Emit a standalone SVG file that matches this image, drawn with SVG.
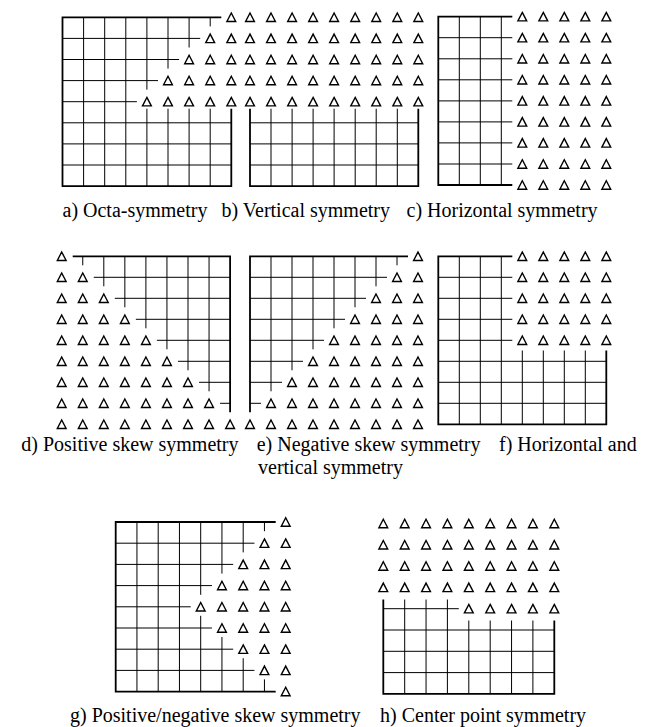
<svg xmlns="http://www.w3.org/2000/svg" width="660" height="727" viewBox="0 0 660 727">
<style>
.ln{stroke:#000;stroke-width:1;fill:none}
.bd{stroke:#000;stroke-width:1.8;fill:none;stroke-linejoin:miter}
.tri{fill:none;stroke:#000;stroke-width:1.4;stroke-linejoin:miter}
.cap{font-family:"Liberation Serif","Times New Roman",serif;font-size:20px;fill:#000}
</style>
<defs>
<path id="t" class="tri" d="M0,-4.3L4.4,4.2L-4.4,4.2Z"/>
</defs>
<rect width="660" height="727" fill="#fff"/>

<g id="panel-a">
<path class="ln" d="M62.5,38.4H200.2M62.5,59.5H179.1M62.5,80.6H158M62.5,101.7H136.9M62.5,122.8H231.3M62.5,143.9H231.3M62.5,165H231.3M83.6,17.3V186.1M104.7,17.3V186.1M125.8,17.3V186.1M146.9,17.3V89.7M146.9,108.7V186.1M168,17.3V68.6M168,108.7V186.1M189.1,17.3V47.5M189.1,108.7V186.1M210.2,17.3V26.4M210.2,108.7V186.1"/>
<path class="bd" d="M221.3,17.3H62.5V186.1H231.3V108.7"/>
<use href="#t" x="231.3" y="17.3"/>
<use href="#t" x="210.2" y="38.4"/><use href="#t" x="231.3" y="38.4"/>
<use href="#t" x="189.1" y="59.5"/><use href="#t" x="210.2" y="59.5"/><use href="#t" x="231.3" y="59.5"/>
<use href="#t" x="168" y="80.6"/><use href="#t" x="189.1" y="80.6"/><use href="#t" x="210.2" y="80.6"/><use href="#t" x="231.3" y="80.6"/>
<use href="#t" x="146.9" y="101.7"/><use href="#t" x="168" y="101.7"/><use href="#t" x="189.1" y="101.7"/><use href="#t" x="210.2" y="101.7"/><use href="#t" x="231.3" y="101.7"/>
</g>

<g id="panel-b">
<path class="ln" d="M250,122.8H418.3M250,143.9H418.3M250,165H418.3M271,108.7V186.1M292.1,108.7V186.1M313.1,108.7V186.1M334.1,108.7V186.1M355.2,108.7V186.1M376.2,108.7V186.1M397.3,108.7V186.1"/>
<path class="bd" d="M250,108.7V186.1H418.3V108.7"/>
<g id="b-row">
<use href="#t" x="250" y="17.3"/><use href="#t" x="271" y="17.3"/><use href="#t" x="292.1" y="17.3"/><use href="#t" x="313.1" y="17.3"/><use href="#t" x="334.1" y="17.3"/><use href="#t" x="355.2" y="17.3"/><use href="#t" x="376.2" y="17.3"/><use href="#t" x="397.3" y="17.3"/><use href="#t" x="418.3" y="17.3"/>
</g>
<use href="#b-row" y="21.1"/><use href="#b-row" y="42.2"/><use href="#b-row" y="63.3"/><use href="#b-row" y="84.4"/>
</g>

<g id="panel-c">
<path class="ln" d="M438.3,37.7H512.3M438.3,58.8H512.3M438.3,79.8H512.3M438.3,100.9H512.3M438.3,121.9H512.3M438.3,142.9H512.3M438.3,164H512.3M459.3,16.7V185M480.3,16.7V185M501.3,16.7V185"/>
<path class="bd" d="M512.3,16.7H438.3V185H512.3"/>
<g id="c-row">
<use href="#t" x="522.3" y="16.7"/><use href="#t" x="543.3" y="16.7"/><use href="#t" x="564.3" y="16.7"/><use href="#t" x="585.3" y="16.7"/><use href="#t" x="606.3" y="16.7"/>
</g>
<use href="#c-row" y="21"/><use href="#c-row" y="42.1"/><use href="#c-row" y="63.1"/><use href="#c-row" y="84.2"/><use href="#c-row" y="105.2"/><use href="#c-row" y="126.2"/><use href="#c-row" y="147.3"/><use href="#c-row" y="168.3"/>
</g>

<g id="panel-d">
<path class="ln" d="M93.75,277.3H230.1M114.8,298.3H230.1M135.85,319.3H230.1M156.9,340.3H230.1M177.95,361.3H230.1M199,382.3H230.1M220.05,403.3H230.1M82.75,256.3V265.3M103.8,256.3V286.3M124.85,256.3V307.3M145.9,256.3V328.3M166.95,256.3V349.3M188,256.3V370.3M209.05,256.3V391.3"/>
<path class="bd" d="M72.7,256.3H230.1V412.3"/>
<use href="#t" x="61.7" y="256.3"/>
<use href="#t" x="61.7" y="277.3"/><use href="#t" x="82.75" y="277.3"/>
<use href="#t" x="61.7" y="298.3"/><use href="#t" x="82.75" y="298.3"/><use href="#t" x="103.8" y="298.3"/>
<use href="#t" x="61.7" y="319.3"/><use href="#t" x="82.75" y="319.3"/><use href="#t" x="103.8" y="319.3"/><use href="#t" x="124.85" y="319.3"/>
<use href="#t" x="61.7" y="340.3"/><use href="#t" x="82.75" y="340.3"/><use href="#t" x="103.8" y="340.3"/><use href="#t" x="124.85" y="340.3"/><use href="#t" x="145.9" y="340.3"/>
<use href="#t" x="61.7" y="361.3"/><use href="#t" x="82.75" y="361.3"/><use href="#t" x="103.8" y="361.3"/><use href="#t" x="124.85" y="361.3"/><use href="#t" x="145.9" y="361.3"/><use href="#t" x="166.95" y="361.3"/>
<use href="#t" x="61.7" y="382.3"/><use href="#t" x="82.75" y="382.3"/><use href="#t" x="103.8" y="382.3"/><use href="#t" x="124.85" y="382.3"/><use href="#t" x="145.9" y="382.3"/><use href="#t" x="166.95" y="382.3"/><use href="#t" x="188" y="382.3"/>
<use href="#t" x="61.7" y="403.3"/><use href="#t" x="82.75" y="403.3"/><use href="#t" x="103.8" y="403.3"/><use href="#t" x="124.85" y="403.3"/><use href="#t" x="145.9" y="403.3"/><use href="#t" x="166.95" y="403.3"/><use href="#t" x="188" y="403.3"/><use href="#t" x="209.05" y="403.3"/>
<use href="#t" x="61.7" y="424.3"/><use href="#t" x="82.75" y="424.3"/><use href="#t" x="103.8" y="424.3"/><use href="#t" x="124.85" y="424.3"/><use href="#t" x="145.9" y="424.3"/><use href="#t" x="166.95" y="424.3"/><use href="#t" x="188" y="424.3"/><use href="#t" x="209.05" y="424.3"/><use href="#t" x="230.1" y="424.3"/>
</g>

<g id="panel-e">
<path class="ln" d="M250,277.3H387M250,298.3H366M250,319.3H345M250,340.3H324M250,361.3H303M250,382.3H282M250,403.3H261M271,256.3V391.3M292,256.3V370.3M313,256.3V349.3M334,256.3V328.3M355,256.3V307.3M376,256.3V286.3M397,256.3V265.3"/>
<path class="bd" d="M408,256.3H250V412.3"/>
<use href="#t" x="418" y="256.3"/>
<use href="#t" x="397" y="277.3"/><use href="#t" x="418" y="277.3"/>
<use href="#t" x="376" y="298.3"/><use href="#t" x="397" y="298.3"/><use href="#t" x="418" y="298.3"/>
<use href="#t" x="355" y="319.3"/><use href="#t" x="376" y="319.3"/><use href="#t" x="397" y="319.3"/><use href="#t" x="418" y="319.3"/>
<use href="#t" x="334" y="340.3"/><use href="#t" x="355" y="340.3"/><use href="#t" x="376" y="340.3"/><use href="#t" x="397" y="340.3"/><use href="#t" x="418" y="340.3"/>
<use href="#t" x="313" y="361.3"/><use href="#t" x="334" y="361.3"/><use href="#t" x="355" y="361.3"/><use href="#t" x="376" y="361.3"/><use href="#t" x="397" y="361.3"/><use href="#t" x="418" y="361.3"/>
<use href="#t" x="292" y="382.3"/><use href="#t" x="313" y="382.3"/><use href="#t" x="334" y="382.3"/><use href="#t" x="355" y="382.3"/><use href="#t" x="376" y="382.3"/><use href="#t" x="397" y="382.3"/><use href="#t" x="418" y="382.3"/>
<use href="#t" x="271" y="403.3"/><use href="#t" x="292" y="403.3"/><use href="#t" x="313" y="403.3"/><use href="#t" x="334" y="403.3"/><use href="#t" x="355" y="403.3"/><use href="#t" x="376" y="403.3"/><use href="#t" x="397" y="403.3"/><use href="#t" x="418" y="403.3"/>
<use href="#t" x="250" y="424.3"/><use href="#t" x="271" y="424.3"/><use href="#t" x="292" y="424.3"/><use href="#t" x="313" y="424.3"/><use href="#t" x="334" y="424.3"/><use href="#t" x="355" y="424.3"/><use href="#t" x="376" y="424.3"/><use href="#t" x="397" y="424.3"/><use href="#t" x="418" y="424.3"/>
</g>

<g id="panel-f">
<path class="ln" d="M438.3,277.3H512.3M438.3,298.3H512.3M438.3,319.3H512.3M438.3,340.3H512.3M438.3,361.3H606.3M438.3,382.3H606.3M438.3,403.3H606.3M459.3,256.3V424.3M480.3,256.3V424.3M501.3,256.3V424.3M522.3,350.5V424.3M543.3,350.5V424.3M564.3,350.5V424.3M585.3,350.5V424.3"/>
<path class="bd" d="M512.3,256.3H438.3V424.3H606.3V350.5"/>
<g id="f-row">
<use href="#t" x="522.3" y="256.3"/><use href="#t" x="543.3" y="256.3"/><use href="#t" x="564.3" y="256.3"/><use href="#t" x="585.3" y="256.3"/><use href="#t" x="606.3" y="256.3"/>
</g>
<use href="#f-row" y="21"/><use href="#f-row" y="42"/><use href="#f-row" y="63"/><use href="#f-row" y="84"/>
</g>

<g id="panel-g">
<path class="ln" d="M115.7,543.2H254.45M115.7,564.4H233.2M115.7,585.6H211.95M115.7,606.8H190.7M115.7,628H211.95M115.7,649.2H233.2M115.7,670.4H254.45M136.95,522V691.6M158.2,522V691.6M179.45,522V691.6M200.7,522V594.8M200.7,615.8V691.6M221.95,522V573.6M221.95,637V691.6M243.2,522V552.4M243.2,658.2V691.6M264.45,522V531.2M264.45,679.4V691.6"/>
<path class="bd" d="M275.7,522H115.7V691.6H275.7"/>
<use href="#t" x="285.7" y="522"/>
<use href="#t" x="264.45" y="543.2"/><use href="#t" x="285.7" y="543.2"/>
<use href="#t" x="243.2" y="564.4"/><use href="#t" x="264.45" y="564.4"/><use href="#t" x="285.7" y="564.4"/>
<use href="#t" x="221.95" y="585.6"/><use href="#t" x="243.2" y="585.6"/><use href="#t" x="264.45" y="585.6"/><use href="#t" x="285.7" y="585.6"/>
<use href="#t" x="200.7" y="606.8"/><use href="#t" x="221.95" y="606.8"/><use href="#t" x="243.2" y="606.8"/><use href="#t" x="264.45" y="606.8"/><use href="#t" x="285.7" y="606.8"/>
<use href="#t" x="221.95" y="628"/><use href="#t" x="243.2" y="628"/><use href="#t" x="264.45" y="628"/><use href="#t" x="285.7" y="628"/>
<use href="#t" x="243.2" y="649.2"/><use href="#t" x="264.45" y="649.2"/><use href="#t" x="285.7" y="649.2"/>
<use href="#t" x="264.45" y="670.4"/><use href="#t" x="285.7" y="670.4"/>
<use href="#t" x="285.7" y="691.6"/>
</g>

<g id="panel-h">
<path class="ln" d="M383.3,608.7H458.8M383.3,630H554.3M383.3,651.3H554.3M383.3,672.6H554.3M404.7,599.5V693.9M426.05,599.5V693.9M447.4,599.5V693.9M468.8,620.5V693.9M490.2,620.5V693.9M511.55,620.5V693.9M532.9,620.5V693.9"/>
<path class="bd" d="M383.3,599.5V693.9H554.3V620.5"/>
<g id="h-row">
<use href="#t" x="383.3" y="523.5"/><use href="#t" x="404.7" y="523.5"/><use href="#t" x="426.05" y="523.5"/><use href="#t" x="447.4" y="523.5"/><use href="#t" x="468.8" y="523.5"/><use href="#t" x="490.2" y="523.5"/><use href="#t" x="511.55" y="523.5"/><use href="#t" x="532.9" y="523.5"/><use href="#t" x="554.3" y="523.5"/>
</g>
<use href="#h-row" y="21.3"/><use href="#h-row" y="42.6"/><use href="#h-row" y="63.9"/>
<use href="#t" x="468.8" y="608.7"/><use href="#t" x="490.2" y="608.7"/><use href="#t" x="511.55" y="608.7"/><use href="#t" x="532.9" y="608.7"/><use href="#t" x="554.3" y="608.7"/>
</g>

<g id="captions">
<text class="cap" x="62.5" y="217">a) Octa-symmetry</text>
<text class="cap" x="221.5" y="217">b) Vertical symmetry</text>
<text class="cap" x="406.5" y="217">c) Horizontal symmetry</text>
<text class="cap" x="238.5" y="451" text-anchor="end">d) Positive skew symmetry</text>
<text class="cap" x="256.7" y="451">e) Negative skew symmetry</text>
<text class="cap" x="499" y="451">f) Horizontal and</text>
<text class="cap" x="258" y="474">vertical symmetry</text>
<text class="cap" x="70" y="722">g) Positive/negative skew symmetry</text>
<text class="cap" x="380" y="722">h) Center point symmetry</text>
</g>
</svg>
